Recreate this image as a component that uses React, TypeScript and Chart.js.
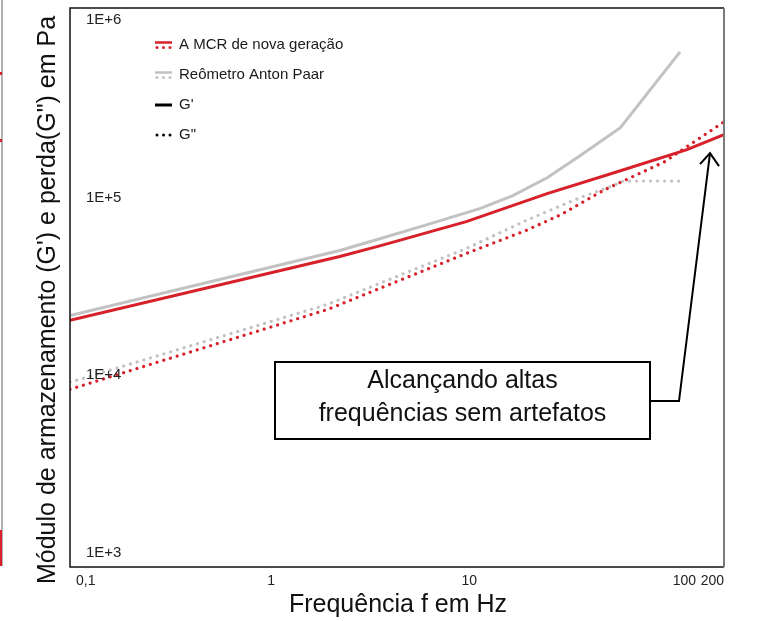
import React, { useEffect, useRef } from 'react';
import { Chart, registerables } from 'chart.js';

Chart.register(...registerables);

// ---- data (frequency in Hz, modulus in Pa) ----
const mcrStorageFreq = [0.1, 2.3, 3.7, 10, 25.6, 60, 130, 200];
const mcrStorageVal = [20400, 46600, 53700, 73300, 105300, 141800, 186200, 226000];

const mcrLossFreq = [0.1, 2, 5, 10, 20, 30, 50, 100, 200];
const mcrLossVal = [8340, 23500, 35500, 48500, 65300, 80200, 110900, 159000, 267000];

const apStorageFreq = [0.1, 2.3, 3.7, 6.6, 11.7, 17.2, 25.6, 37.5, 60, 120];
const apStorageVal = [21700, 50400, 58900, 71400, 86700, 102600, 129500, 172200, 247400, 661000];

const apLossFreq = [0.1, 2, 5, 10, 20, 37.5, 55, 62, 120];
const apLossVal = [9140, 25100, 37900, 51700, 74300, 100000, 116700, 124000, 124000];

const xTickValues = [0.1, 1, 10, 100, 200];
const xTickLabels = ['0,1', '1', '10', '100', '200'];
const yTickValues = [1e3, 1e4, 1e5, 1e6];
const yTickLabels = ['1E+3', '1E+4', '1E+5', '1E+6'];

const legendLabels = ['A MCR de nova geração', 'Reômetro Anton Paar', "G'", 'G"'];
const xTitle = 'Frequência f em Hz';
const yTitle = 'Módulo de armazenamento (G\') e perda(G") em Pa';
const noteLines = ['Alcançando altas', 'frequências sem artefatos'];
const noteTarget = { x: 170, y: 178000 };

const RED = '#d7202a';
const GRAY = '#c2c2c2';
const FONT = '"Liberation Sans", Arial, Helvetica, sans-serif';

const toPts = (f: number[], v: number[]) => f.map((x, i) => ({ x, y: v[i] }));

const DOT: number[] = [0.01, 7];

const decorPlugin = {
  id: 'decor',
  afterDraw(chart: any) {
    const { ctx, chartArea: a, scales } = chart;
    const xs = scales.x;
    const ys = scales.y;
    ctx.save();

    // crop artefact at far left
    ctx.strokeStyle = '#9a9a9a';
    ctx.lineWidth = 1.5;
    ctx.beginPath();
    ctx.moveTo(2, 0);
    ctx.lineTo(2, 566);
    ctx.stroke();
    ctx.fillStyle = RED;
    ctx.fillRect(0, 530, 2, 36);
    ctx.fillRect(0, 72, 2, 3);
    ctx.fillRect(0, 139, 2, 3);

    // plot frame
    ctx.strokeStyle = '#111';
    ctx.lineWidth = 1.5;
    ctx.beginPath();
    ctx.moveTo(a.right, a.top);
    ctx.lineTo(a.left, a.top);
    ctx.lineTo(a.left, a.bottom);
    ctx.lineTo(a.right, a.bottom);
    ctx.stroke();
    ctx.strokeStyle = '#7a7a7a';
    ctx.lineWidth = 2;
    ctx.beginPath();
    ctx.moveTo(a.right, a.top);
    ctx.lineTo(a.right, a.bottom);
    ctx.stroke();

    // y tick labels (inside the plot)
    ctx.fillStyle = '#222';
    ctx.font = `15px ${FONT}`;
    ctx.textAlign = 'left';
    ctx.textBaseline = 'middle';
    yTickValues.forEach((v, i) => {
      ctx.fillText(yTickLabels[i], a.left + 16, ys.getPixelForValue(v));
    });

    // x tick labels
    ctx.font = `14px ${FONT}`;
    ctx.textBaseline = 'middle';
    const ty = a.bottom + 14;
    xTickValues.forEach((v, i) => {
      const px = xs.getPixelForValue(v);
      if (i === 0) {
        ctx.textAlign = 'left';
        ctx.fillText(xTickLabels[i], px + 6, ty);
      } else if (i === xTickValues.length - 1) {
        ctx.textAlign = 'right';
        ctx.fillText(xTickLabels[i], px, ty);
      } else if (i === xTickValues.length - 2) {
        ctx.textAlign = 'center';
        ctx.fillText(xTickLabels[i], px + 20, ty);
      } else {
        ctx.textAlign = 'center';
        ctx.fillText(xTickLabels[i], px + 3, ty);
      }
    });

    // axis titles
    ctx.fillStyle = '#111';
    ctx.font = `25px ${FONT}`;
    ctx.textAlign = 'center';
    ctx.textBaseline = 'middle';
    ctx.fillText(xTitle, 398, a.bottom + 38);
    ctx.save();
    ctx.translate(48, 300);
    ctx.rotate(-Math.PI / 2);
    ctx.fillText(yTitle, 0, 0);
    ctx.restore();

    // legend
    const lx = a.left + 85;
    const ly0 = a.top + 37;
    const drawDots = (x: number, y: number, color: string) => {
      ctx.fillStyle = color;
      [2, 8.5, 15].forEach((dx) => {
        ctx.beginPath();
        ctx.arc(x + dx, y, 1.5, 0, Math.PI * 2);
        ctx.fill();
      });
    };
    const drawSolid = (x: number, y: number, color: string, w: number) => {
      ctx.strokeStyle = color;
      ctx.lineWidth = w;
      ctx.lineCap = 'butt';
      ctx.beginPath();
      ctx.moveTo(x, y);
      ctx.lineTo(x + 17, y);
      ctx.stroke();
    };
    legendLabels.forEach((label, i) => {
      const y = ly0 + i * 30;
      if (i === 0 || i === 1) {
        const c = i === 0 ? RED : GRAY;
        drawSolid(lx, y - 2.5, c, 2.5);
        drawDots(lx, y + 2.5, c);
      } else if (i === 2) {
        drawSolid(lx, y, '#000', 3);
      } else {
        drawDots(lx, y, '#000');
      }
      ctx.fillStyle = '#1a1a1a';
      ctx.font = `15px ${FONT}`;
      ctx.textAlign = 'left';
      ctx.textBaseline = 'middle';
      ctx.fillText(label, lx + 24, y);
    });

    // annotation box + arrow
    const bx0 = 275, bx1 = 650, by0 = 362, by1 = 439;
    ctx.strokeStyle = '#000';
    ctx.lineWidth = 2;
    ctx.strokeRect(bx0, by0, bx1 - bx0, by1 - by0);
    ctx.fillStyle = '#111';
    ctx.font = `25px ${FONT}`;
    ctx.textAlign = 'center';
    ctx.textBaseline = 'middle';
    ctx.fillText(noteLines[0], (bx0 + bx1) / 2, 381);
    ctx.fillText(noteLines[1], (bx0 + bx1) / 2, 414);

    const tx = xs.getPixelForValue(noteTarget.x);
    const tyy = ys.getPixelForValue(noteTarget.y);
    ctx.lineWidth = 2;
    ctx.lineJoin = 'miter';
    ctx.beginPath();
    ctx.moveTo(bx1, 401);
    ctx.lineTo(679, 401);
    ctx.lineTo(tx, tyy);
    ctx.stroke();
    ctx.beginPath();
    ctx.moveTo(tx - 10, tyy + 11);
    ctx.lineTo(tx, tyy);
    ctx.lineTo(tx + 9, tyy + 13);
    ctx.stroke();

    ctx.restore();
  },
};

export default function App() {
  const ref = useRef<HTMLCanvasElement | null>(null);

  useEffect(() => {
    document.body.style.margin = '0';
    const canvas = ref.current;
    if (!canvas) return;
    const lineBase = {
      pointRadius: 0,
      pointHoverRadius: 0,
      tension: 0,
      borderWidth: 3,
      fill: false,
    };
    const chart = new Chart(canvas, {
      type: 'line',
      data: {
        datasets: [
          {
            ...lineBase,
            label: 'AP G"',
            data: toPts(apLossFreq, apLossVal),
            borderColor: GRAY,
            borderDash: DOT,
            borderCapStyle: 'round',
            borderWidth: 3.2,
          },
          {
            ...lineBase,
            label: "AP G'",
            data: toPts(apStorageFreq, apStorageVal),
            borderColor: GRAY,
          },
          {
            ...lineBase,
            label: 'MCR G"',
            data: toPts(mcrLossFreq, mcrLossVal),
            borderColor: RED,
            borderDash: DOT,
            borderCapStyle: 'round',
            borderWidth: 3.2,
          },
          {
            ...lineBase,
            label: "MCR G'",
            data: toPts(mcrStorageFreq, mcrStorageVal),
            borderColor: RED,
          },
        ],
      },
      options: {
        responsive: false,
        animation: false,
        devicePixelRatio: 1,
        layout: { padding: { left: 70, top: 8, right: 33, bottom: 54 } },
        scales: {
          x: { type: 'logarithmic', min: 0.1, max: 200, display: false },
          y: { type: 'logarithmic', min: 834, max: 1168000, display: false },
        },
        plugins: {
          legend: { display: false },
          tooltip: { enabled: false },
          title: { display: false },
        },
        events: [],
      },
      plugins: [decorPlugin],
    } as any);
    return () => chart.destroy();
  }, []);

  return (
    <div style={{ width: 757, height: 621, position: 'relative', background: '#fff' }}>
      <canvas ref={ref} width={757} height={621} style={{ display: 'block' }} />
    </div>
  );
}
